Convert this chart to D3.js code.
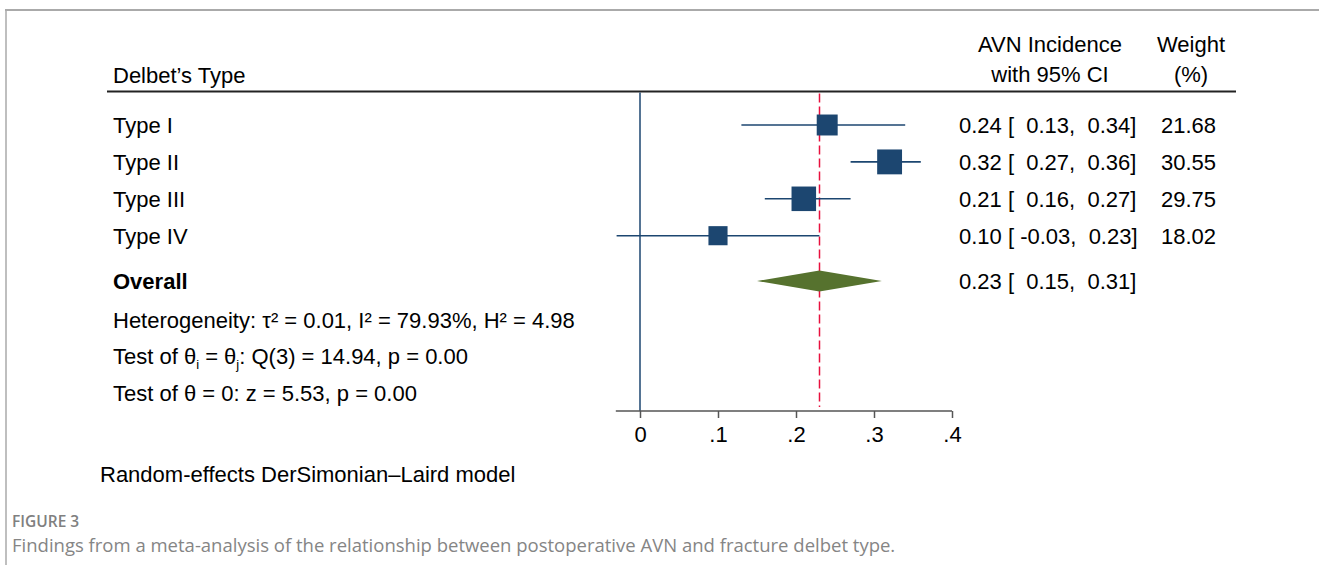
<!DOCTYPE html>
<html>
<head>
<meta charset="utf-8">
<script src="https://cdn.jsdelivr.net/npm/d3@7"></script>
<style>
  html, body { margin: 0; padding: 0; background: #fff; }
  svg { display: block; }
  text { font-family: "Liberation Sans", Arial, Helvetica, sans-serif; fill: #000; }
  .cap { font-family: "Open Sans", "Noto Sans", sans-serif; }
</style>
</head>
<body>
<svg id="chart" width="1319" height="565"></svg>
<script>
// Study rows: Delbet fracture type, AVN incidence estimate, 95% CI and weight
const types    = ["Type I", "Type II", "Type III", "Type IV"];
const estimate = [0.24, 0.32, 0.21, 0.10];
const ciLow    = [0.13, 0.27, 0.16, -0.03];
const ciHigh   = [0.34, 0.36, 0.27, 0.23];
const weights  = [21.68, 30.55, 29.75, 18.02];

// Pooled random-effects estimate
const overallEst  = 0.23;
const overallLow  = 0.15;
const overallHigh = 0.31;

// Axis ticks
const tickValues = [0, 0.1, 0.2, 0.3, 0.4];
const tickLabels = ["0", ".1", ".2", ".3", ".4"];

const svg = d3.select("#chart");

const navy = "#1c4670";
const green = "#56722e";
const red = "#e8103e";

// Figure frame (top rule and left rule)
svg.append("line").attr("x1", 5).attr("x2", 1319).attr("y1", 10).attr("y2", 10)
  .attr("stroke", "#aaa").attr("stroke-width", 2);
svg.append("line").attr("x1", 6).attr("x2", 6).attr("y1", 10).attr("y2", 565)
  .attr("stroke", "#aaa").attr("stroke-width", 1.5);

// Scales
const x = d3.scaleLinear().domain([0, 0.4]).range([640, 952]);
const rowY = d3.scaleLinear().domain([0, 1]).range([125, 161.9]);
const overallY = 281;
const axisY = 411;
const headerLineY = 91.5;
const fs = 22;

// Header
svg.append("text").attr("x", 113).attr("y", 82.5).style("font-size", fs + "px").text("Delbet\u2019s Type");
svg.append("text").attr("x", 1050).attr("y", 51.5).attr("text-anchor", "middle").style("font-size", fs + "px").text("AVN Incidence");
svg.append("text").attr("x", 1050).attr("y", 81.5).attr("text-anchor", "middle").style("font-size", fs + "px").text("with 95% CI");
svg.append("text").attr("x", 1191).attr("y", 51.5).attr("text-anchor", "middle").style("font-size", fs + "px").text("Weight");
svg.append("text").attr("x", 1191).attr("y", 81.5).attr("text-anchor", "middle").style("font-size", fs + "px").text("(%)");
svg.append("line").attr("x1", 107).attr("x2", 1236).attr("y1", headerLineY).attr("y2", headerLineY)
  .attr("stroke", "#222").attr("stroke-width", 2);

// Null line at zero
svg.append("line").attr("x1", x(0)).attr("x2", x(0)).attr("y1", headerLineY + 1).attr("y2", axisY)
  .attr("stroke", navy).attr("stroke-width", 1.5);

// Axis
const axis = d3.axisBottom(x).tickValues(tickValues)
  .tickFormat((d, i) => tickLabels[i]).tickSize(7).tickSizeOuter(0).tickPadding(8);
const gAxis = svg.append("g").attr("transform", `translate(0,${axisY})`).call(axis);
gAxis.select(".domain").remove();
gAxis.append("line").attr("x1", x(-0.031)).attr("x2", x(0.4)).attr("y1", 0).attr("y2", 0)
  .attr("stroke", "#555").attr("stroke-width", 1.5);
gAxis.selectAll(".tick line").attr("stroke", "#555").attr("stroke-width", 1.5);
gAxis.selectAll(".tick text").style("font-size", fs + "px")
  .style("font-family", "'Liberation Sans', Arial, sans-serif").attr("fill", "#000");

// Dashed line at the pooled estimate
const xPooled = Math.round(x(overallEst)) + 0.5;
svg.append("line").attr("x1", xPooled).attr("x2", xPooled)
  .attr("y1", headerLineY + 2).attr("y2", axisY - 4)
  .attr("stroke", red).attr("stroke-width", 1.5).attr("stroke-dasharray", "9,4");

// Study rows
const rows = types.map((t, i) => ({ t, est: estimate[i], lo: ciLow[i], hi: ciHigh[i], w: weights[i], i }));
const g = svg.append("g");

g.selectAll("line.ci").data(rows).join("line").attr("class", "ci")
  .attr("x1", d => x(d.lo)).attr("x2", d => x(d.hi))
  .attr("y1", d => rowY(d.i)).attr("y2", d => rowY(d.i))
  .attr("stroke", navy).attr("stroke-width", 1.6);

const side = d3.scaleSqrt().domain([0, 100]).range([0, 45]);
g.selectAll("rect.box").data(rows).join("rect").attr("class", "box")
  .attr("x", d => x(d.est) - side(d.w) / 2).attr("y", d => rowY(d.i) - side(d.w) / 2)
  .attr("width", d => side(d.w)).attr("height", d => side(d.w))
  .attr("fill", navy);

g.selectAll("text.lab").data(rows).join("text").attr("class", "lab")
  .attr("x", 113).attr("y", d => rowY(d.i) + 8).style("font-size", fs + "px").text(d => d.t);

// Fixed-width number formatting with an ASCII hyphen for negatives
const f2 = d3.formatLocale({ decimal: ".", thousands: ",", grouping: [3], currency: ["", ""], minus: "-" }).format(".2f");
const pad = v => (v < 0 ? " " : "  ") + f2(v);
const ciText = (e, lo, hi) => `${f2(e)} [${pad(lo)},${pad(hi)}]`;

g.selectAll("text.val").data(rows).join("text").attr("class", "val")
  .attr("x", 959).attr("y", d => rowY(d.i) + 8).style("font-size", fs + "px").style("white-space", "pre")
  .text(d => ciText(d.est, d.lo, d.hi));

g.selectAll("text.wt").data(rows).join("text").attr("class", "wt")
  .attr("x", 1216).attr("y", d => rowY(d.i) + 8).attr("text-anchor", "end").style("font-size", fs + "px")
  .text(d => f2(d.w));

// Overall diamond
const diamond = [[x(overallLow), overallY], [x(overallEst), overallY - 10.5], [x(overallHigh), overallY], [x(overallEst), overallY + 10.5]];
svg.append("path").attr("d", d3.line()(diamond) + "Z").attr("fill", green);
svg.append("text").attr("x", 113).attr("y", overallY + 8).style("font-size", fs + "px").style("font-weight", "bold").text("Overall");
svg.append("text").attr("x", 959).attr("y", overallY + 8).style("font-size", fs + "px").style("white-space", "pre")
  .text(ciText(overallEst, overallLow, overallHigh));

// Heterogeneity and test statistics
svg.append("text").attr("x", 113).attr("y", 328).style("font-size", fs + "px")
  .text("Heterogeneity: \u03C4\u00B2 = 0.01, I\u00B2 = 79.93%, H\u00B2 = 4.98");

const t1 = svg.append("text").attr("x", 113).attr("y", 364).style("font-size", fs + "px");
t1.append("tspan").text("Test of \u03B8");
t1.append("tspan").attr("dy", 5).style("font-size", "13px").text("i");
t1.append("tspan").attr("dy", -5).text(" = \u03B8");
t1.append("tspan").attr("dy", 5).style("font-size", "13px").text("j");
t1.append("tspan").attr("dy", -5).text(": Q(3) = 14.94, p = 0.00");

svg.append("text").attr("x", 113).attr("y", 401).style("font-size", fs + "px")
  .text("Test of \u03B8 = 0: z = 5.53, p = 0.00");

// Model note
svg.append("text").attr("x", 100).attr("y", 482).style("font-size", "22px")
  .text("Random-effects DerSimonian\u2013Laird model");

// Figure caption
svg.append("text").attr("class", "cap").attr("x", 12).attr("y", 527)
  .style("font-size", "15.5px").style("font-weight", "600").style("fill", "#808080").text("FIGURE 3");
svg.append("text").attr("class", "cap").attr("x", 12).attr("y", 552)
  .style("font-size", "18.5px").style("fill", "#858585")
  .text("Findings from a meta-analysis of the relationship between postoperative AVN and fracture delbet type.");
</script>
</body>
</html>
